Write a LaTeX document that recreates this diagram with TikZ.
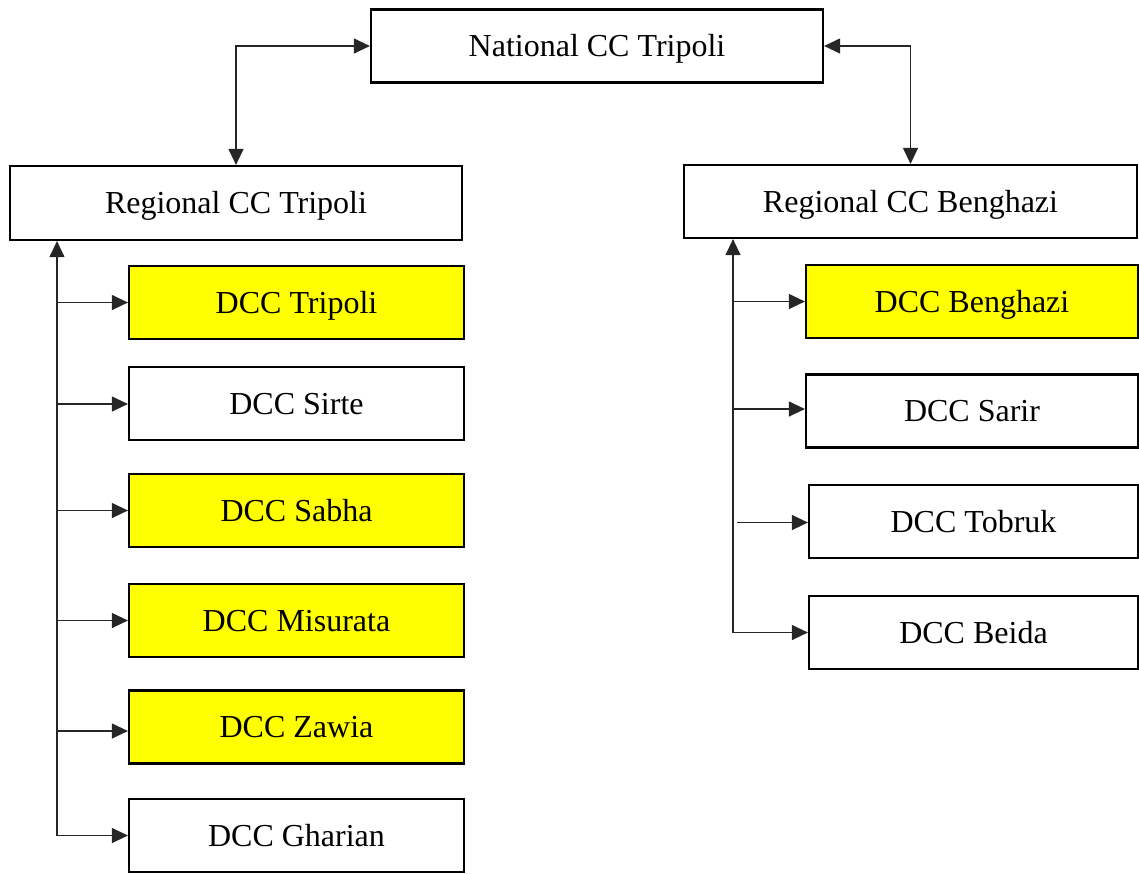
\documentclass[tikz,border=0pt]{standalone}
\usepackage{fontspec}
\setmainfont{Liberation Serif}
\usetikzlibrary{arrows.meta}
\definecolor{boxyellow}{HTML}{FFFF00}
\tikzset{
  box/.style={draw=black, line width=2.2pt, inner sep=0pt, align=center,
    font=\fontsize{32}{38}\selectfont, text height=21pt, text depth=0pt},
  big/.style={box, minimum width=452pt, minimum height=73pt},
  dcc/.style={box, minimum width=335pt, minimum height=73pt},
  dccr/.style={box, minimum height=73pt},
  hl/.style={fill=boxyellow},
  conn/.style={line width=1.2pt, draw=black!85},
  tip/.style={-{Triangle[length=16pt,width=15pt]}},
  tips/.style={{Triangle[length=16pt,width=15pt]}-{Triangle[length=16pt,width=15pt]}},
}
\begin{document}
\begin{tikzpicture}[x=1pt,y=-1pt]
\useasboundingbox (0,0) rectangle (1139,873);

% top levels
\node[big] (nat) at (597,46) {National CC Tripoli};
\node[big, minimum height=74pt] (regT) at (236,203) {Regional CC Tripoli};
\node[big, minimum width=453pt] (regB) at (910.5,201.5) {Regional CC Benghazi};

% left districts
\node[dcc, hl] (tri) at (296.5,302.5) {DCC Tripoli};
\node[dcc] (sir) at (296.5,403.5) {DCC Sirte};
\node[dcc, hl] (sab) at (296.5,510.5) {DCC Sabha};
\node[dcc, hl] (mis) at (296.5,620.5) {DCC Misurata};
\node[dcc, hl] (zaw) at (296.5,727) {DCC Zawia};
\node[dcc] (gha) at (296.5,835.5) {DCC Gharian};

% right districts
\node[dccr, hl, minimum width=332pt] (ben) at (972,301.5) {DCC Benghazi};
\node[dccr, minimum width=332pt] (sar) at (972,411) {DCC Sarir};
\node[dccr, minimum width=329pt] (tob) at (973.5,521.5) {DCC Tobruk};
\node[dccr, minimum width=329pt] (bei) at (973.5,632.5) {DCC Beida};

% national to regionals
\draw[conn, tips] (nat.west) -| (regT.north);
\draw[conn, tips] (nat.east) -| (regB.north);

% left trunk
\coordinate (lt) at (57,835.5);
\draw[conn, tip] (lt) -- (lt |- regT.south);
\draw[conn, tip] (tri.west -| lt) -- (tri.west);
\draw[conn, tip] ([yshift=-0.5pt]sir.west -| lt) -- ([yshift=-0.5pt]sir.west);
\draw[conn, tip] (sab.west -| lt) -- (sab.west);
\draw[conn, tip] (mis.west -| lt) -- (mis.west);
\draw[conn, tip] ([yshift=-4pt]zaw.west -| lt) -- ([yshift=-4pt]zaw.west);
\draw[conn, tip] (gha.west -| lt) -- (gha.west);

% right trunk
\coordinate (rt) at (733,632.5);
\draw[conn, tip] (rt) -- (rt |- regB.south);
\draw[conn, tip] (ben.west -| rt) -- (ben.west);
\draw[conn, tip] ([yshift=2pt]sar.west -| rt) -- ([yshift=2pt]sar.west);
\coordinate (tobs) at (737,522.5);
\draw[conn, tip] (tobs) -- (tobs -| tob.west);
\draw[conn, tip] (rt) -- (bei.west);
\end{tikzpicture}
\end{document}
